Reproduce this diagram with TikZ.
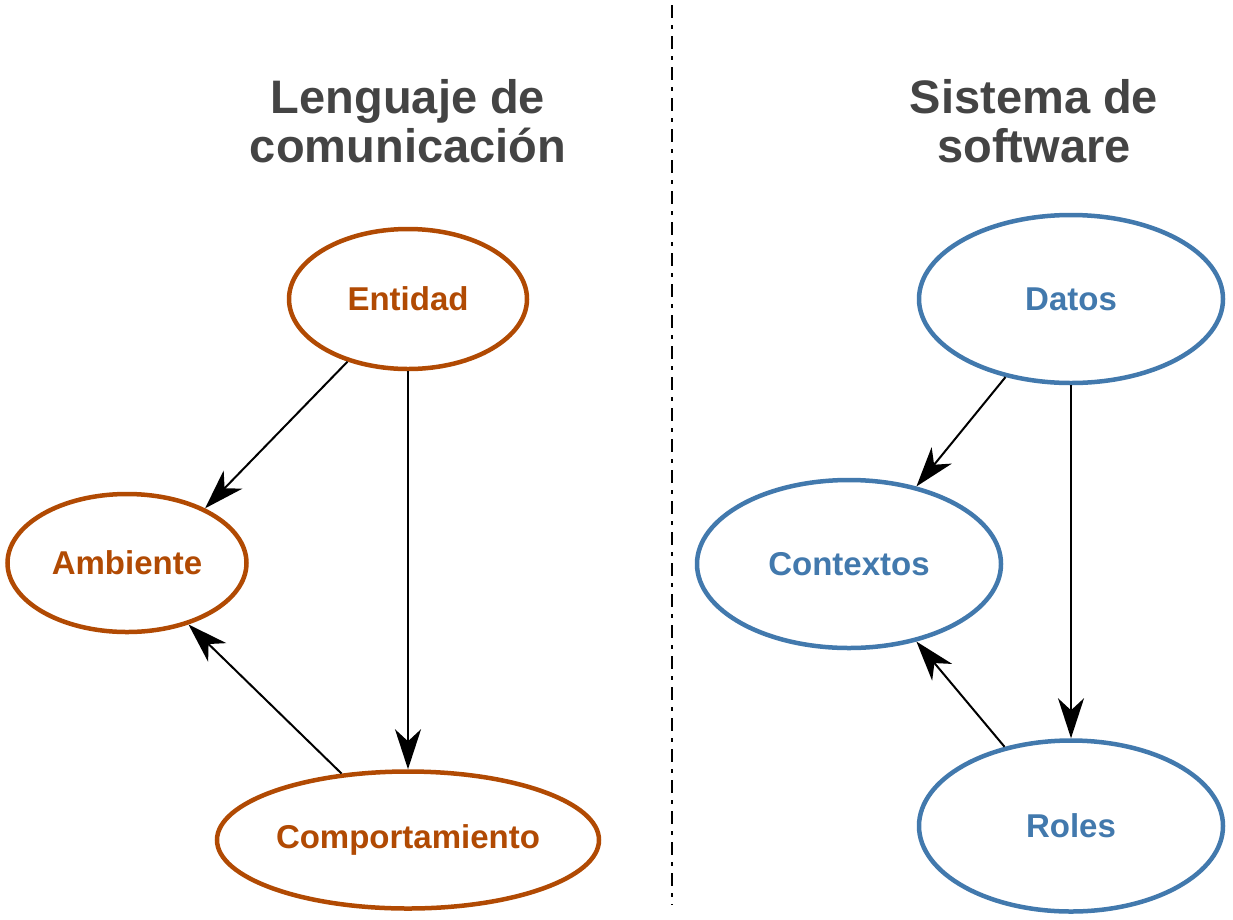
\documentclass[tikz,border=0pt]{standalone}
\usepackage{fontspec}
\setmainfont{Liberation Sans}
\usetikzlibrary{arrows.meta, shapes.geometric}

\definecolor{lengcolor}{HTML}{B14A03}
\definecolor{softcolor}{HTML}{4279AD}
\definecolor{titlecolor}{HTML}{444444}

\begin{document}
\begin{tikzpicture}[
            x = 1pt, y = -1pt, % one unit = one pixel, y downward
            > = {Stealth[length=40pt, width=26pt, inset=12pt]}, % arrow head style
            shorten > = 0pt, % arrow head touches the node
            line width = 2pt % line style
        ]

        \tikzstyle{every concept}=[
            ellipse,
            line width = 4.5pt,
            fill = white,
            inner sep = 0pt,
            font = \fontsize{33}{38}\selectfont\bfseries
        ]
        \tikzstyle{leng}=[every concept, draw = lengcolor, text = lengcolor]
        \tikzstyle{soft}=[every concept, draw = softcolor, text = softcolor]
        \tikzstyle{heading}=[
            align = center,
            text = titlecolor,
            font = \fontsize{47}{49}\selectfont\bfseries
        ]

        \useasboundingbox (0,0) rectangle (1233,919);

        % separator
        \coordinate (top) at (672,5);
        \coordinate (bottom) at (672,905);
        \draw[line width = 2.5pt, dash pattern = on 13pt off 7pt on 4pt off 7pt] (top) -- (bottom);

        % titles
        \node[heading] (tleng) at (408,121) {Lenguaje de\\comunicación};
        \node[heading] (tsoft) at (1034,121) {Sistema de\\software};

        % left side
	\node[leng, minimum width = 238pt, minimum height = 140pt] (ent) at (408,299) {Entidad};
	\node[leng, minimum width = 239pt, minimum height = 138pt] (amb) at (127,563) {Ambiente};
	\node[leng, minimum width = 382pt, minimum height = 137pt] (comp) at (408,840) {Comportamiento};

        % right side
	\node[soft, minimum width = 304pt, minimum height = 168pt] (dat) at (1071,299) {Datos};
	\node[soft, minimum width = 304pt, minimum height = 168pt] (ctx) at (849,564) {Contextos};
	\node[soft, minimum width = 304pt, minimum height = 171pt] (rol) at (1071,826) {Roles};

        \draw[->] (ent.226) -- (amb.35);
        \draw[->] (ent.south) -- (comp.north);
        \draw[->] (comp.135) -- (amb.315);

        \draw[->] (dat.230) -- (ctx.49);
        \draw[->] (dat.south) -- (rol.north);
        \draw[->] (rol.130) -- (ctx.311);

    \end{tikzpicture}
\end{document}
